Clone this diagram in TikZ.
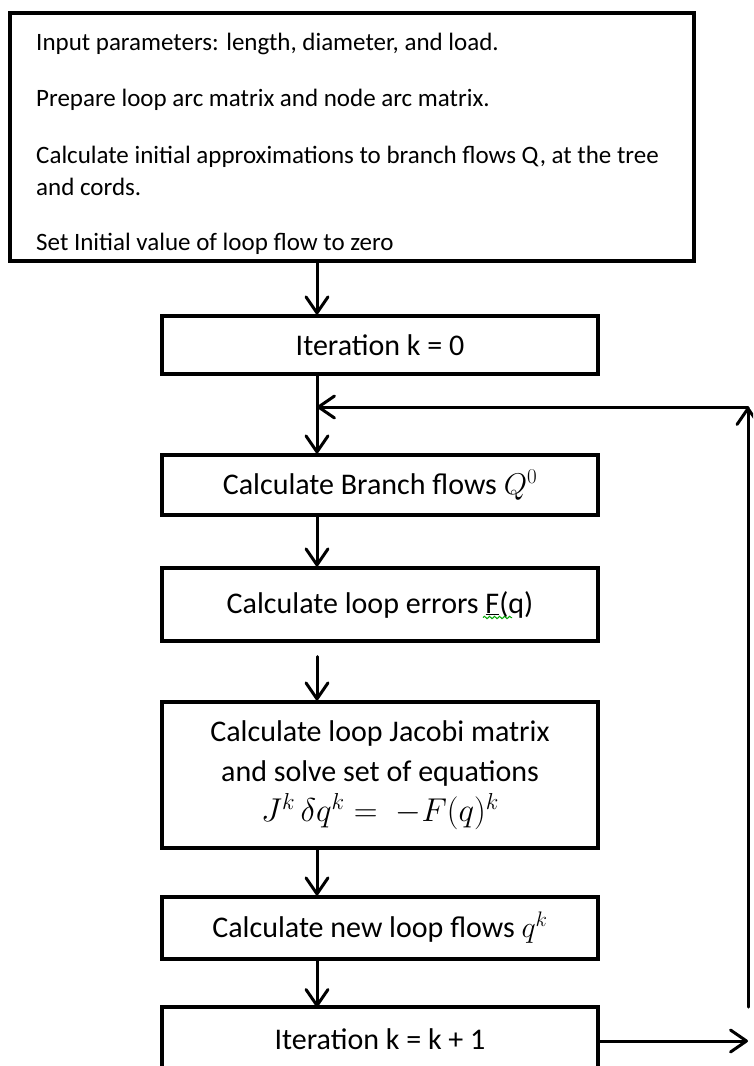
\RequirePackage{fix-cm}
\documentclass[tikz,border=0pt]{standalone}
\usepackage{fontspec}
\setmainfont{Carlito}
\usetikzlibrary{arrows.meta,decorations.pathmorphing}
\begin{document}
\begin{tikzpicture}[x=1pt,y=-1pt,
  box/.style={draw,line width=3.2pt,minimum width=436pt,inner sep=0pt,
    font=\fontsize{30}{40}\selectfont,align=center},
  flow/.style={line width=3pt,line cap=round,
    -{Straight Barb[length=16pt,width=22pt,line width=3pt,round]}},
  note/.style={anchor=base west,inner sep=0pt,font=\fontsize{25}{32}\selectfont},
  squiggle/.style={draw=green!65!black,line width=1pt,
    decorate,decoration={snake,segment length=5pt,amplitude=1.2pt}}]
\useasboundingbox (0,0) rectangle (753,1066);
\fill[white] (0,0) rectangle (753,1066);
\clip (0,0) rectangle (753,1066);

% input block
\node[draw,line width=3.8pt,minimum width=684pt,minimum height=248pt,inner sep=0pt]
  (input) at (352,137) {};
\node[note] (p1) at (36,50) {Input parameters: length, diameter, and load.};
\node[note] (p2) at (36,106) {Prepare loop arc matrix and node arc matrix.};
\node[note] (p3) at (36,163) {Calculate initial approximations to branch flows Q, at the tree};
\node[note] (p4) at (36,195) {and cords.};
\node[note] (p5) at (36,250) {Set Initial value of loop flow to zero};

% process blocks
\node[box,minimum height=58pt]  (it0)    at (380,345)   {Iteration k = 0};
\node[box,minimum height=60pt]  (branch) at (380,485)   {Calculate Branch flows $Q^0$};
\node[box,minimum height=73pt]  (errors) at (380,604.5) {Calculate loop errors \underline{F}(q)};
\node[box,minimum height=146pt] (jacobi) at (380,775)   {Calculate loop Jacobi matrix\\
  and solve set of equations\\ {\fontsize{33}{40}\selectfont$J^k\,\delta q^k =\; -F(q)^k$}};
\node[box,minimum height=62pt]  (newq)   at (380,928)   {Calculate new loop flows $q^k$};
\node[box,draw=none,outer sep=0pt,minimum height=64pt] (itk) at (380,1039) {Iteration k = k + 1};
\draw[line width=3.2pt] (itk.south west) |- (itk.north east) -- (itk.south east);

% spell-check mark under F(
\draw[squiggle] ([xshift=103pt,yshift=-13pt]errors.center) -- ([xshift=132pt,yshift=-13pt]errors.center);

% connectors
\coordinate (axis) at (317,0);
\coordinate (upB) at (748,1007);
\coordinate (upT) at (748,407);
\coordinate (outR) at (748,1041);

\draw[flow] (input.south -| axis) -- (it0.north -| axis);
\draw[flow] (it0.south -| axis) -- (branch.north -| axis);
\draw[flow] (branch.south -| axis) -- (errors.north -| axis);
\draw[flow,shorten <=14pt] (errors.south -| axis) -- (jacobi.north -| axis);
\draw[flow] (jacobi.south -| axis) -- (newq.north -| axis);
\draw[flow] (newq.south -| axis) -- (itk.north -| axis);
\draw[flow] (itk.east |- outR) -- (outR);
\draw[flow] (upB) -- (upT);
\draw[flow] (upT) -- (upT -| axis);
\end{tikzpicture}
\end{document}
